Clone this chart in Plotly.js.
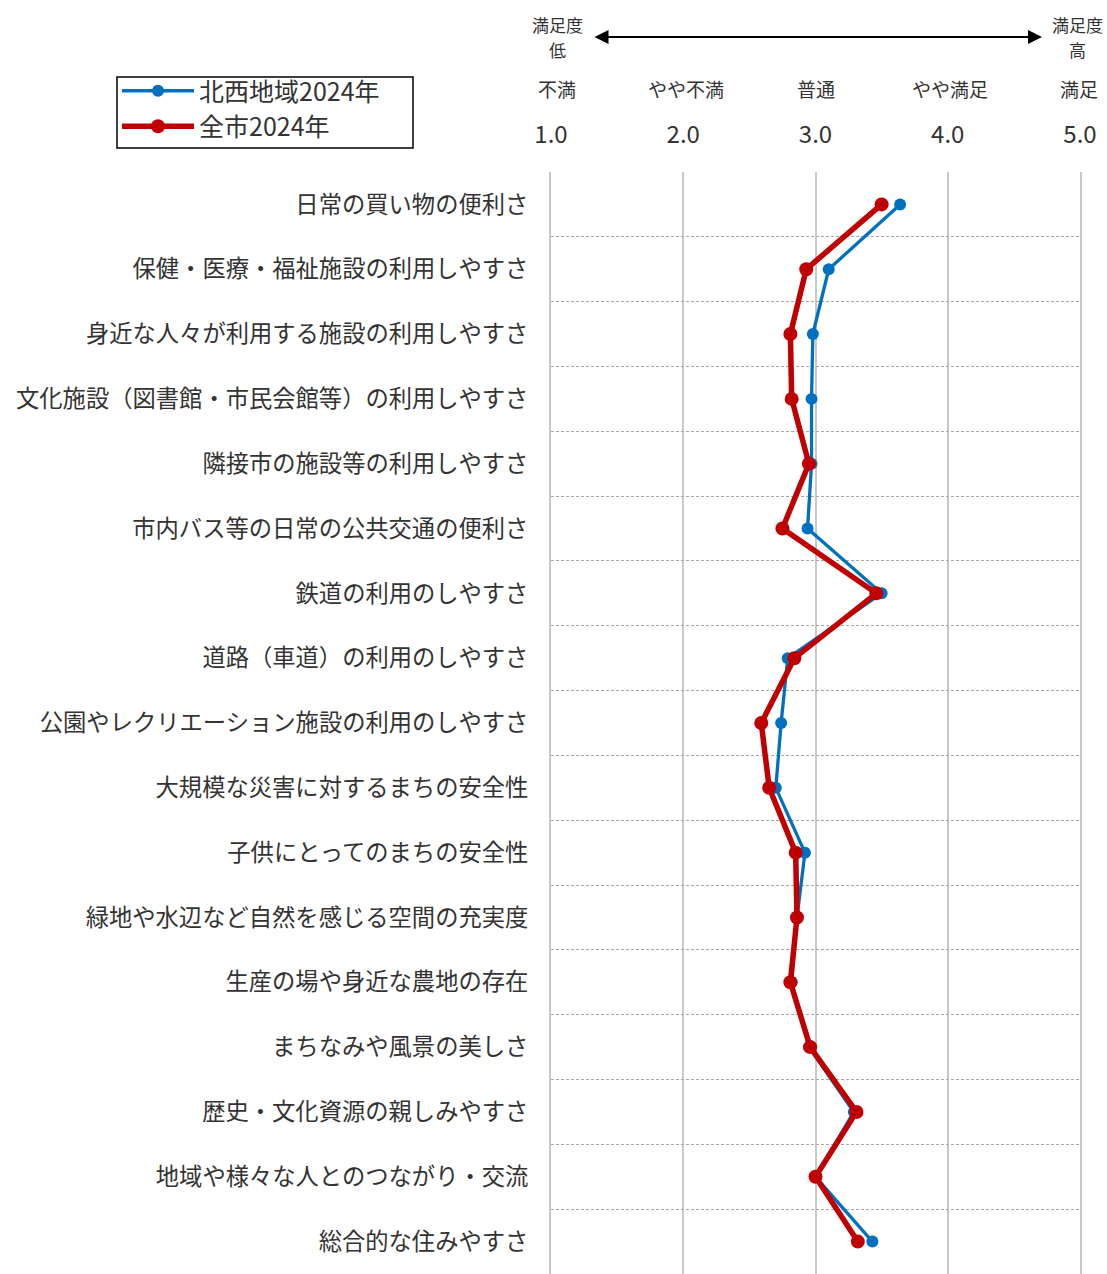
<!DOCTYPE html>
<html><head><meta charset="utf-8">
<script src="https://cdn.plot.ly/plotly-3.0.1.min.js"></script>
<style>html,body{margin:0;padding:0;background:#fff;}#chart{width:1107px;height:1274px;}</style>
</head><body><div id="chart"></div>
<script>
const categories = [
  "日常の買い物の便利さ",
  "保健・医療・福祉施設の利用しやすさ",
  "身近な人々が利用する施設の利用しやすさ",
  "文化施設（図書館・市民会館等）の利用しやすさ",
  "隣接市の施設等の利用しやすさ",
  "市内バス等の日常の公共交通の便利さ",
  "鉄道の利用のしやすさ",
  "道路（車道）の利用のしやすさ",
  "公園やレクリエーション施設の利用のしやすさ",
  "大規模な災害に対するまちの安全性",
  "子供にとってのまちの安全性",
  "緑地や水辺など自然を感じる空間の充実度",
  "生産の場や身近な農地の存在",
  "まちなみや風景の美しさ",
  "歴史・文化資源の親しみやすさ",
  "地域や様々な人とのつながり・交流",
  "総合的な住みやすさ"
];
const seriesNames = ["北西地域2024年", "全市2024年"];
const hokuseiValues = [3.64, 3.10, 2.98, 2.97, 2.97, 2.94, 3.50, 2.79, 2.74, 2.70, 2.92, 2.86, 2.82, 2.95, 3.29, 3.00, 3.43];
const zenshiValues  = [3.50, 2.93, 2.81, 2.82, 2.95, 2.75, 3.46, 2.84, 2.59, 2.65, 2.85, 2.86, 2.81, 2.96, 3.31, 3.00, 3.32];
const tickValues = [1, 2, 3, 4, 5];
const tickLabels = ["1.0", "2.0", "3.0", "4.0", "5.0"];
const levelLabels = ["不満", "やや不満", "普通", "やや満足", "満足"];

const FONT = '"Noto Sans CJK JP", "Noto Sans", sans-serif';

const traces = [
  {
    type: 'scatter', mode: 'lines+markers', name: seriesNames[0],
    x: hokuseiValues, y: categories,
    line: {color: '#0070C0', width: 3.3},
    marker: {color: '#0070C0', size: 12}
  },
  {
    type: 'scatter', mode: 'lines+markers', name: seriesNames[1],
    x: zenshiValues, y: categories,
    line: {color: '#C00000', width: 5.5},
    marker: {color: '#C00000', size: 14}
  }
];

const levelShifts = [6, 3, 0, 2, -1];
const annotations = [];
levelLabels.forEach((t, i) => {
  annotations.push({
    xref: 'x', yref: 'paper', x: tickValues[i], y: 1, yshift: 84,
    text: t, showarrow: false, xanchor: 'center', yanchor: 'middle',
    xshift: levelShifts[i],
    font: {family: FONT, size: 19, color: '#333333'}
  });
});
const endLabels = [
  {px: 557, lines: ['満足度', '低']},
  {px: 1077, lines: ['満足度', '高']}
];
endLabels.forEach(e => {
  e.lines.forEach((t, j) => {
    annotations.push({
      xref: 'paper', yref: 'paper', x: (e.px - 551) / 529, y: 1, yshift: 172 - (24 + j * 25),
      text: t, showarrow: false, xanchor: 'center', yanchor: 'middle',
      font: {family: FONT, size: 17, color: '#333333'}
    });
  });
});
annotations.push({
  xref: 'paper', yref: 'paper', x: (1042 - 551) / 529, y: 1 + (172 - 37) / 1102,
  axref: 'pixel', ayref: 'pixel', ax: -(1042 - 593), ay: 0,
  text: '', showarrow: true, arrowhead: 2, startarrowhead: 2, arrowside: 'end+start',
  arrowsize: 1.4, startarrowsize: 1.4, arrowwidth: 2, arrowcolor: '#000000'
});

const shapes = [{
  type: 'rect', xref: 'paper', yref: 'paper', layer: 'above',
  x0: (117 - 551) / 529, x1: (413 - 551) / 529,
  y0: 1 + (172 - 148) / 1102, y1: 1 + (172 - 77) / 1102,
  line: {color: '#000000', width: 1.5}, fillcolor: 'rgba(0,0,0,0)'
}];

const layout = {
  width: 1107, height: 1274,
  margin: {l: 551, r: 27, t: 172, b: 0, pad: 0},
  paper_bgcolor: '#ffffff', plot_bgcolor: '#ffffff',
  font: {family: FONT, color: '#333333'},
  showlegend: true,
  legend: {
    x: (117 - 551) / 529, y: 1 + (172 - 68) / 1102, xanchor: 'left', yanchor: 'top',
    borderwidth: 0, bgcolor: 'rgba(0,0,0,0)',
    font: {family: FONT, size: 25, color: '#333333'},
    tracegroupgap: 0, itemwidth: 72
  },
  xaxis: {
    side: 'top', range: [1, 5], tickvals: tickValues, ticktext: tickLabels,
    showgrid: true, gridcolor: '#c8c8c8', gridwidth: 2, zeroline: false,
    ticks: '', ticklabelstandoff: 23,
    tickfont: {family: FONT, size: 24, color: '#333333'},
    fixedrange: true
  },
  yaxis: {
    type: 'category', range: [16.5, -0.5], tickson: 'boundaries',
    showgrid: true, gridcolor: '#a8a8a8', gridwidth: 1, griddash: '3px,2px',
    showline: true, mirror: true, linecolor: '#c8c8c8', linewidth: 2,
    ticks: '', ticklabelstandoff: 16,
    tickfont: {family: FONT, size: 23.3, color: '#333333'},
    fixedrange: true
  },
  shapes: shapes,
  annotations: annotations
};

Plotly.newPlot('chart', traces, layout, {displayModeBar: false, staticPlot: true});
</script>
</body></html>
